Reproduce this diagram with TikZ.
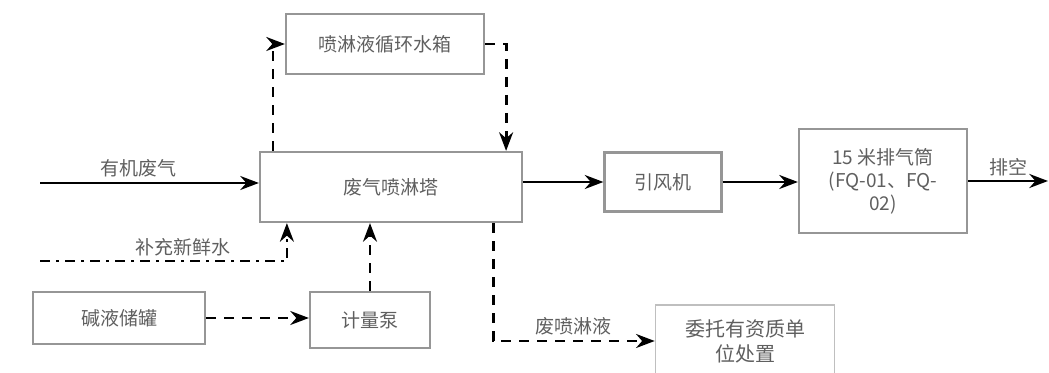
\documentclass[tikz,border=0pt]{standalone}
\usepackage{fontspec}
\newfontfamily\cjk{Noto Sans CJK SC}
\usetikzlibrary{arrows.meta,positioning,calc}
\definecolor{boxgray}{RGB}{150,150,150}
\definecolor{textgray}{RGB}{95,95,95}

\begin{document}
\begin{tikzpicture}[x=0.5pt, y=-0.5pt, >=Stealth,
  font=\cjk\fontsize{9.5}{11.5}\selectfont,
  box/.style={draw=boxgray, line width=1.1pt, inner sep=1pt, text=textgray, align=center},
  flow/.style={->, line width=1.4pt},
  dashflow/.style={->, line width=1.4pt, dash pattern=on 5pt off 4pt},
  dotflow/.style={->, line width=1.4pt, dash pattern=on 5pt off 3pt on 1.5pt off 3pt},
  lbl/.style={text=textgray, inner sep=2pt}]
\useasboundingbox (0,0) rectangle (1049,373);

% boxes
\node[box, minimum width=131pt, minimum height=35pt] (main) at (391,187) {废气喷淋塔};
\node[box, minimum width=99pt, minimum height=30pt] (loop) at (385,44) {喷淋液循环水箱};
\node[box, minimum width=58.5pt, minimum height=29.5pt] (fan) at (663,182) {引风机};
\node[box, minimum width=84pt, minimum height=52pt] (stack) at (883,181)
  {15 米排气筒\\(FQ-01、FQ-\\02)};
\node[box, minimum width=86pt, minimum height=26pt] (tank) at (119,318) {碱液储罐};
\node[box, minimum width=60pt, minimum height=28pt] (pump) at (370,320) {计量泵};
\node[box, draw=black!25, line width=0.8pt, minimum width=89.5pt, minimum height=36pt,
      font=\cjk\fontsize{10}{12.5}\selectfont] (dispose) at (745,341) {委托有资质单\\位处置};

% free ends
\coordinate (gasin) at (40,183);
\coordinate (gasout) at (1048,181);
\coordinate (water) at (40,261);

% main flow
\draw[flow] (gasin) -- node[lbl, above, pos=0.45] {有机废气} (main.west |- gasin);
\draw[flow] (main.east |- fan) -- (fan.west);
\draw[flow] (fan.east) -- (stack.west |- fan.east);
\draw[flow] (stack.east |- gasout) -- node[lbl, above] {排空} (gasout);

% circulation loop
\draw[dashflow] ($(main.north west)+(14,0)$) |- (loop.west);
\draw[dashflow] (loop.east) -| ($(main.north east)+(-17,0)$);

% dosing and make-up water
\draw[dotflow] (water) -| node[lbl, above, pos=0.29] {补充新鲜水} ($(main.south west)+(28,0)$);
\draw[dashflow] (tank.east) -- (pump.west |- tank.east);
\draw[dashflow] (pump.north) -- (pump.north |- main.south);

% waste liquid
\draw[dashflow] ($(main.south east)+(-30,0)$) |- node[lbl, above, pos=0.75] {废喷淋液} (dispose.west);
\end{tikzpicture}
\end{document}
